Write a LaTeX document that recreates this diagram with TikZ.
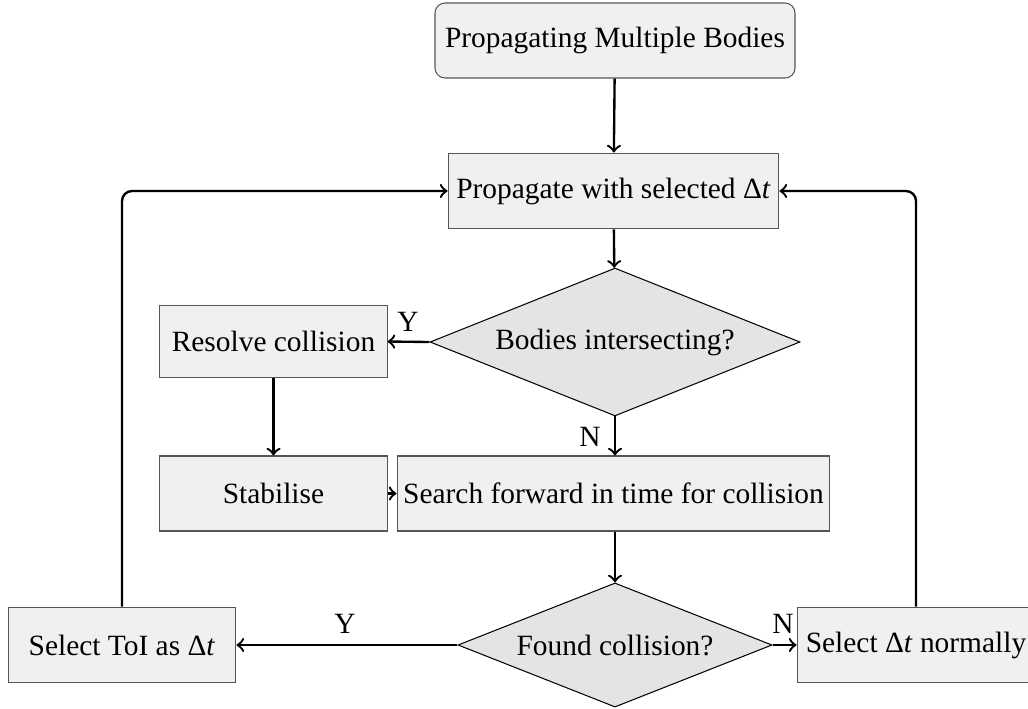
\documentclass[tikz,border=0pt]{standalone}
\usepackage{fontspec}
\setmainfont{Liberation Serif}
\usetikzlibrary{shapes.geometric}
\definecolor{boxfill}{HTML}{F0F0F0}
\definecolor{dfill}{HTML}{E4E4E4}
\definecolor{boxline}{HTML}{555555}
\begin{document}
\begin{tikzpicture}[x=0.34pt,y=-0.34pt,
  box/.style={draw=boxline,fill=boxfill,line width=0.35pt,inner sep=0pt,font=\fontsize{10}{12}\selectfont},
  dec/.style={diamond,aspect=2.5,draw=black,fill=dfill,line width=0.35pt,inner sep=0pt,font=\fontsize{10}{12}\selectfont},
  conn/.style={->,line width=0.8pt,rounded corners=3.4pt},
  lab/.style={font=\fontsize{10}{12}\selectfont,inner sep=0pt}]
\useasboundingbox (0,0) rectangle (1028,708);
\node[box,rounded corners=3.4pt,minimum width=122.4pt,minimum height=25.5pt] (start) at (615,40.5) {Propagating Multiple Bodies};
\node[box,minimum width=112.5pt,minimum height=25.8pt] (prop) at (613.5,191) {Propagate with selected Δ\textit{t}};
\node[dec,minimum width=125.8pt,minimum height=50.3pt] (d1) at (615,342) {Bodies intersecting?};
\node[box,minimum width=77.2pt,minimum height=24.8pt] (res) at (273.5,341.5) {Resolve collision};
\node[box,minimum width=77.2pt,minimum height=25.5pt] (stab) at (273.5,493.5) {Stabilise};
\node[box,minimum width=147.2pt,minimum height=25.5pt] (search) at (613.5,493.5) {Search forward in time for collision};
\node[dec,minimum width=106.8pt,minimum height=42.2pt] (d2) at (615,645) {Found collision?};
\node[box,minimum width=77.5pt,minimum height=25.8pt] (toi) at (122,645) {Select ToI as Δ\textit{t}};
\node[box,minimum width=80.9pt,minimum height=25.8pt] (norm) at (916,645) {Select Δ\textit{t} normally};
\draw[conn] (start) -- (prop);
\draw[conn] (prop) -- (d1);
\draw[conn] (d1.west) -- (res.east);
\draw[conn] (d1.south) -- (d1.south |- search.north);
\draw[conn] (res) -- (stab);
\draw[conn] (stab) -- (search);
\draw[conn] (search.south -| d2.north) -- (d2.north);
\draw[conn] (d2.west) -- (toi.east);
\draw[conn] (d2.east) -- (norm.west);
\draw[conn] (toi.north) |- (prop.west);
\draw[conn] (norm.north) |- (prop.east);
\node[lab] (y1) at (408,322) {Y};
\node[lab] (n1) at (590,437) {N};
\node[lab] (y2) at (345,624) {Y};
\node[lab] (n2) at (783,624) {N};
\end{tikzpicture}
\end{document}
